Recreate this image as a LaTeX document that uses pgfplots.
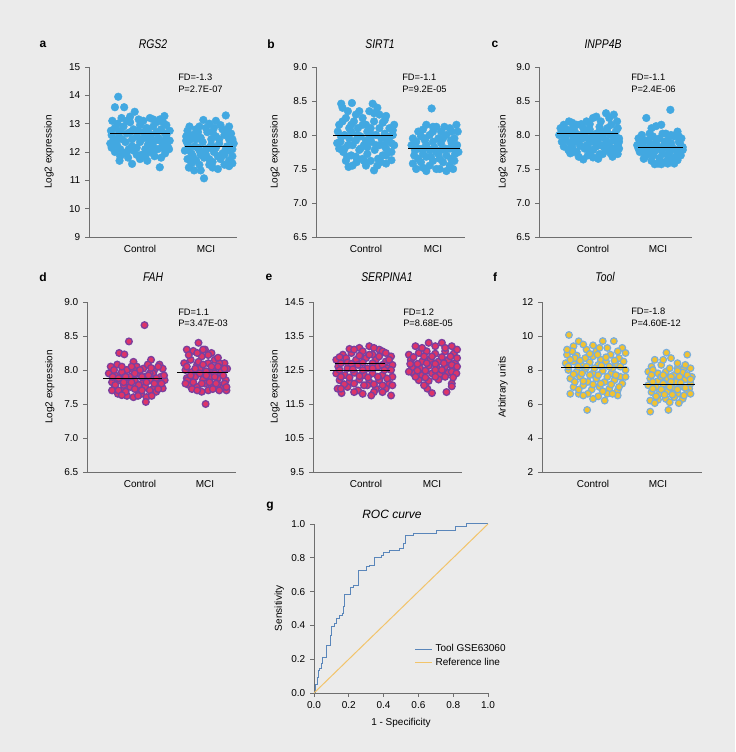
\documentclass[border=0pt]{standalone}
\usepackage{pgfplots}
\pgfplotsset{compat=1.18}
\usepackage{fontspec}
\setmainfont{Liberation Sans}
\newfontfamily\titlefont[FakeStretch=0.82]{Liberation Sans}
\definecolor{bg}{HTML}{EBEBEB}
\definecolor{axgray}{HTML}{6E6E6E}
\definecolor{dotblue}{HTML}{42A8E1}
\definecolor{dotpink}{HTML}{DE3468}
\definecolor{dotpurple}{HTML}{7B3F9E}
\definecolor{dotyellow}{HTML}{F2C230}
\definecolor{dotedge}{HTML}{7AAEDB}
\definecolor{rocblue}{HTML}{5A86BA}
\definecolor{refyellow}{HTML}{F2C46A}
\newcommand\tf{\fontsize{7.5}{9}\selectfont}
\newcommand\fdf{\fontsize{7}{8.5}\selectfont}
\newcommand\ttl{\titlefont\fontsize{9.5}{11}\selectfont\itshape}
\newcommand\lett{\fontsize{9}{11}\selectfont\bfseries}
\pgfplotsset{
 panel/.style={scale only axis, anchor=south west, axis x line*=bottom, axis y line*=left,
   axis line style={draw=axgray, line width=0.6pt}, tick style={draw=axgray, line width=0.6pt},
   tick align=outside, major tick length=3pt, tick label style={font=\tf}, label style={font=\tf},
   /pgf/number format/assume math mode=true, clip=false, clip marker paths=true},
 scat/.style={panel, xtick={1,2}, xticklabels={Control,MCI}, major x tick style=transparent,
   ylabel={Log2 expression}, height=127.5pt},
 onedec/.style={yticklabel style={/pgf/number format/.cd, fixed, fixed zerofill, precision=1}},
 bluedot/.style={only marks, mark=*, mark size=2.9pt, mark options={fill=dotblue, draw=dotblue, line width=0.3pt}},
 pinkdot/.style={only marks, mark=*, mark size=2.5pt, mark options={fill=dotpink, draw=dotpurple, line width=1pt}},
 tooldot/.style={only marks, mark=*, mark size=2.5pt, mark options={fill=dotyellow, draw=dotedge, line width=0.9pt}},
 meanline/.style={black, line width=0.6pt, no marks},
}
\begin{document}
\begin{tikzpicture}
\fill[bg] (0,0) rectangle (551.25pt,564pt);
\useasboundingbox (0,0) rectangle (551.25pt,564pt);

% ---------- a RGS2
\begin{axis}[scat, at={(66.75pt,386.25pt)}, width=111pt, xmin=0.227, xmax=2.47,
  ymin=9, ymax=15, ytick={9,10,11,12,13,14,15},
  ylabel style={at={(axis description cs:-0.27,0.5)}, anchor=center}]
\addplot[bluedot] coordinates {
(0.67,13.95)(0.62,13.58)(0.76,13.58)(0.92,13.42)(1.37,13.27)
(0.58,13.1)(0.72,13.2)(0.85,13.05)(1.05,13.1)(1.15,13.2)(1.25,13.05)(1.40,12.95)
(0.62,12.85)(0.75,12.9)(0.9,12.8)(1.0,12.95)(1.1,12.85)(1.2,12.9)(1.32,12.8)(1.45,12.75)
(0.57,12.6)(0.68,12.5)(0.8,12.65)(0.95,12.55)(1.05,12.7)(1.17,12.6)(1.28,12.5)(1.4,12.6)
(0.55,12.3)(0.65,12.25)(0.78,12.35)(0.88,12.2)(1.0,12.35)(1.12,12.25)(1.22,12.4)(1.35,12.3)(1.45,12.4)
(0.62,12.0)(0.75,11.95)(0.9,12.05)(1.02,11.9)(1.15,12.0)(1.27,12.1)(1.38,11.95)
(0.69,11.69)(0.82,11.8)(0.88,11.58)(1.0,11.75)(1.11,11.69)(1.22,11.85)(1.30,11.46)
(0.6,12.45)(0.85,13.25)(1.3,13.15)(1.42,12.2)(0.7,12.75)(1.08,12.5)
(0.66,13.0)(0.8,13.1)(0.98,13.15)(1.2,13.15)(1.35,13.05)
(0.56,12.75)(0.68,12.65)(0.85,12.7)(0.97,12.75)(1.12,12.75)(1.25,12.7)(1.38,12.65)
(0.62,12.4)(0.73,12.45)(0.88,12.45)(1.02,12.45)(1.15,12.4)(1.3,12.4)(1.4,12.5)
(0.57,12.15)(0.7,12.1)(0.83,12.1)(0.95,12.15)(1.08,12.1)(1.2,12.2)(1.33,12.15)(1.44,12.1)
(0.7,11.85)(0.95,11.9)(1.08,11.85)(1.32,11.8)(0.8,12.0)(1.2,12.0)
};
\addplot[bluedot] coordinates {
(2.30,13.29)(1.96,13.13)(2.05,13.0)(1.75,12.9)(1.85,12.8)(2.12,12.85)(2.22,12.95)(2.38,12.65)
(1.70,12.55)(1.80,12.6)(1.92,12.5)(2.02,12.7)(2.15,12.55)(2.28,12.6)(2.40,12.45)
(1.72,12.3)(1.83,12.2)(1.95,12.35)(2.08,12.25)(2.20,12.3)(2.32,12.2)(2.42,12.3)
(1.68,12.05)(1.78,11.95)(1.90,12.05)(2.0,11.9)(2.12,12.0)(2.25,11.95)(2.36,12.05)
(1.72,11.75)(1.85,11.7)(1.97,11.8)(2.10,11.65)(2.22,11.75)(2.35,11.7)
(1.74,11.45)(1.82,11.35)(1.97,11.07)(2.1,11.45)(2.18,11.4)(2.35,11.5)(1.9,11.55)(2.28,11.9)
(1.88,12.7)(2.25,12.8)(2.0,12.1)(1.78,12.45)
(2.15,13.1)(2.35,12.9)(1.9,12.9)(2.0,12.85)(1.72,12.75)(2.1,12.7)(2.3,12.75)
(1.85,12.45)(2.08,12.45)(2.2,12.45)(2.35,12.45)(1.7,12.4)
(1.75,12.15)(1.88,12.15)(2.05,12.15)(2.15,12.15)(2.3,12.1)(2.4,12.1)
(1.8,11.85)(1.92,11.9)(2.05,11.75)(2.18,11.85)(2.4,11.85)
(1.78,11.6)(1.92,11.35)(2.05,11.55)(2.28,11.55)(2.4,11.6)
};
\addplot[meanline] coordinates {(0.55,12.65)(1.45,12.65)};
\addplot[meanline] coordinates {(1.68,12.2)(2.41,12.2)};
\end{axis}

% ---------- b SIRT1
\begin{axis}[scat, onedec, at={(237pt,386.25pt)}, width=111.75pt, xmin=0.254, xmax=2.478,
  ymin=6.5, ymax=9, ytick={6.5,7.0,7.5,8.0,8.5,9.0},
  ylabel style={at={(axis description cs:-0.275,0.5)}, anchor=center}]
\addplot[bluedot] coordinates {
(0.63,8.46)(0.79,8.47)(1.10,8.46)(1.05,8.35)(1.20,8.30)(0.95,8.25)
(0.60,8.15)(0.70,8.25)(0.82,8.2)(0.88,8.1)(1.0,8.15)(1.12,8.2)(1.25,8.18)(1.35,8.1)
(0.58,8.05)(0.68,8.0)(0.78,8.05)(0.92,7.98)(1.02,8.05)(1.15,8.0)(1.28,8.02)(1.40,8.0)
(0.62,7.9)(0.73,7.85)(0.85,7.92)(0.97,7.85)(1.08,7.9)(1.2,7.85)(1.32,7.92)(1.42,7.85)
(0.66,7.75)(0.78,7.7)(0.9,7.78)(1.02,7.72)(1.13,7.78)(1.25,7.7)(1.38,7.75)
(0.7,7.62)(0.74,7.53)(0.86,7.6)(1.0,7.55)(1.12,7.48)(1.07,7.62)(1.22,7.6)(1.38,7.63)
(0.65,8.4)(0.9,8.35)(1.3,8.28)(1.17,8.4)(0.75,8.1)(1.05,7.95)(1.3,7.8)(0.6,7.8)(0.95,7.65)(1.42,8.15)
(0.73,8.35)(0.85,8.3)(1.12,8.32)(1.28,8.22)(0.65,8.2)(0.78,8.15)(0.95,8.15)(1.07,8.1)(1.2,8.1)(1.4,8.07)
(0.63,7.97)(0.75,7.95)(0.87,8.0)(1.0,7.92)(1.1,8.0)(1.23,7.95)(1.35,7.97)
(0.57,7.88)(0.68,7.8)(0.8,7.85)(0.92,7.8)(1.02,7.82)(1.15,7.85)(1.27,7.85)(1.38,7.88)
(0.72,7.68)(0.85,7.68)(0.97,7.62)(1.18,7.65)(1.3,7.7)(0.8,7.55)(1.17,7.55)(1.3,7.58)
};
\addplot[bluedot] coordinates {
(1.98,8.39)(1.9,8.15)(2.05,8.12)(2.17,8.12)(2.35,8.15)(1.78,8.05)(2.28,8.05)
(1.7,7.95)(1.82,7.98)(1.95,8.0)(2.08,7.95)(2.2,8.0)(2.32,7.95)
(1.68,7.85)(1.78,7.8)(1.9,7.85)(2.02,7.82)(2.12,7.88)(2.25,7.8)(2.36,7.85)
(1.72,7.7)(1.85,7.72)(1.97,7.68)(2.08,7.72)(2.2,7.7)(2.33,7.72)
(1.7,7.58)(1.82,7.6)(1.95,7.55)(2.05,7.5)(2.15,7.6)(2.25,7.55)(2.32,7.62)
(1.9,7.47)(2.2,7.47)(1.75,7.5)(2.0,7.62)(2.12,7.78)(1.88,7.92)(2.27,7.92)(2.0,8.05)
(1.85,8.08)(2.0,8.12)(2.12,8.05)(2.25,8.1)(2.37,8.05)
(1.75,7.9)(1.88,7.95)(2.0,7.9)(2.15,7.95)(2.28,7.88)
(1.73,7.78)(1.85,7.8)(1.95,7.78)(2.05,7.75)(2.18,7.8)(2.3,7.8)(2.38,7.75)
(1.78,7.65)(1.9,7.68)(2.1,7.65)(2.27,7.65)(1.85,7.52)(2.1,7.5)(2.3,7.5)
};
\addplot[meanline] coordinates {(0.51,8.0)(1.4,8.0)};
\addplot[meanline] coordinates {(1.63,7.8)(2.4,7.8)};
\end{axis}

% ---------- c INPP4B
\begin{axis}[scat, onedec, at={(404.25pt,386.25pt)}, width=114.75pt, xmin=0.169, xmax=2.523,
  ymin=6.5, ymax=9, ytick={6.5,7.0,7.5,8.0,8.5,9.0},
  ylabel style={at={(axis description cs:-0.235,0.5)}, anchor=center}]
\addplot[bluedot] coordinates {
(0.63,8.2)(0.75,8.15)(0.9,8.2)(1.0,8.25)(1.05,8.27)(1.2,8.32)(1.32,8.3)(1.37,8.2)(1.28,8.15)
(0.5,8.1)(0.6,8.08)(0.72,8.05)(0.85,8.1)(0.95,8.08)(1.1,8.12)(1.22,8.1)(1.35,8.05)
(0.48,8.0)(0.58,7.98)(0.7,7.95)(0.82,8.0)(0.93,7.95)(1.05,8.02)(1.15,7.97)(1.27,8.0)(1.4,7.95)
(0.52,7.9)(0.65,7.88)(0.78,7.9)(0.9,7.85)(1.02,7.9)(1.12,7.85)(1.25,7.88)(1.38,7.85)
(0.62,7.78)(0.75,7.75)(0.87,7.8)(1.0,7.78)(1.1,7.72)(1.22,7.78)(1.35,7.75)
(0.65,7.73)(0.78,7.68)(0.85,7.64)(1.08,7.65)(1.3,7.68)(0.95,7.72)(1.17,8.05)(0.7,8.12)
(0.55,8.15)(0.68,8.18)(0.82,8.16)(0.95,8.16)(1.12,8.2)(1.25,8.25)(1.38,8.1)
(0.53,8.04)(0.65,8.02)(0.77,8.0)(0.88,8.04)(1.0,8.0)(1.1,8.05)(1.22,8.04)(1.32,8.0)
(0.58,7.93)(0.72,7.9)(0.84,7.95)(0.97,7.9)(1.08,7.94)(1.2,7.92)(1.32,7.92)(1.4,7.9)
(0.55,7.83)(0.68,7.82)(0.8,7.84)(0.93,7.8)(1.05,7.83)(1.17,7.82)(1.3,7.8)(1.4,7.8)
(0.7,7.75)(0.92,7.7)(1.15,7.72)(1.27,7.73)(1.38,7.72)(1.0,7.67)
};
\addplot[bluedot] coordinates {
(2.19,8.37)(1.82,8.25)(1.97,8.13)(2.05,8.15)(1.9,8.1)(2.3,8.05)(2.12,8.02)
(1.7,7.95)(1.8,7.92)(1.92,7.98)(2.02,7.95)(2.15,7.92)(2.25,7.98)(2.36,7.95)
(1.68,7.85)(1.78,7.82)(1.88,7.87)(2.0,7.83)(2.1,7.86)(2.22,7.82)(2.34,7.87)
(1.72,7.75)(1.85,7.72)(1.95,7.76)(2.07,7.72)(2.18,7.75)(2.3,7.72)(2.38,7.78)
(1.78,7.65)(1.9,7.62)(2.0,7.58)(2.1,7.6)(2.2,7.65)(2.3,7.63)(1.95,7.57)(2.25,7.58)(1.85,7.8)(2.15,7.7)
(1.75,8.0)(1.87,8.02)(2.07,8.02)(2.2,8.0)(2.32,7.98)
(1.72,7.9)(1.85,7.92)(1.97,7.9)(2.1,7.9)(2.2,7.88)(2.32,7.9)
(1.7,7.8)(1.82,7.76)(1.92,7.82)(2.05,7.78)(2.15,7.8)(2.28,7.78)(2.38,7.82)
(1.8,7.68)(1.92,7.7)(2.02,7.66)(2.15,7.62)(2.27,7.68)(2.35,7.7)(2.05,7.57)(2.15,7.58)
};
\addplot[meanline] coordinates {(0.45,8.02)(1.38,8.02)};
\addplot[meanline] coordinates {(1.69,7.82)(2.38,7.82)};
\end{axis}

% ---------- d FAH
\begin{axis}[scat, onedec, at={(65.25pt,210pt)}, width=111.75pt, xmin=0.185, xmax=2.477,
  ymin=6.5, ymax=9, ytick={6.5,7.0,7.5,8.0,8.5,9.0},
  ylabel style={at={(axis description cs:-0.25,0.5)}, anchor=center}]
\addplot[pinkdot] coordinates {
(1.07,8.66)(0.83,8.42)(0.68,8.25)(0.76,8.23)(0.9,8.12)(1.17,8.15)(1.3,8.08)
(0.55,8.05)(0.65,8.08)(0.8,8.0)(0.95,8.05)(1.05,8.02)(1.12,8.08)(1.22,8.0)(1.35,8.02)
(0.52,7.95)(0.62,7.92)(0.72,7.97)(0.85,7.9)(0.98,7.95)(1.08,7.9)(1.2,7.95)(1.32,7.9)
(0.57,7.82)(0.68,7.85)(0.8,7.8)(0.92,7.85)(1.03,7.8)(1.15,7.85)(1.27,7.8)(1.38,7.85)
(0.6,7.72)(0.72,7.7)(0.85,7.75)(0.97,7.7)(1.08,7.75)(1.2,7.72)(1.35,7.73)
(0.66,7.65)(0.8,7.62)(0.9,7.6)(1.02,7.65)(1.1,7.6)(1.25,7.68)(1.09,7.53)(0.75,7.78)(1.15,7.95)(0.9,8.0)
(0.6,8.0)(0.72,8.05)(0.87,8.05)(1.0,8.0)(1.17,8.03)(1.28,8.05)
(0.58,7.9)(0.67,7.88)(0.78,7.9)(0.92,7.95)(1.03,7.9)(1.13,7.92)(1.25,7.88)(1.37,7.92)
(0.62,7.78)(0.75,7.82)(0.87,7.82)(0.98,7.78)(1.1,7.82)(1.22,7.8)(1.33,7.8)
(0.57,7.7)(0.67,7.7)(0.78,7.68)(0.92,7.72)(1.03,7.7)(1.15,7.7)(1.28,7.72)
(0.72,7.63)(0.97,7.62)(1.18,7.62)
};
\addplot[pinkdot] coordinates {
(1.9,8.40)(1.72,8.3)(1.82,8.28)(2.0,8.3)(2.1,8.25)(1.95,8.2)(2.15,8.15)(2.3,8.1)(2.22,8.1)
(1.68,8.1)(1.78,8.15)(1.88,8.08)(2.05,8.1)
(1.7,8.0)(1.8,7.97)(1.92,8.02)(2.02,7.98)(2.12,8.0)(2.25,7.98)(2.34,8.02)
(1.72,7.88)(1.85,7.9)(1.97,7.86)(2.08,7.9)(2.2,7.88)(2.32,7.85)
(1.75,7.78)(1.88,7.75)(2.0,7.8)(2.1,7.76)(2.22,7.78)(2.33,7.7)
(1.8,7.72)(1.95,7.68)(2.05,7.7)(2.28,7.75)(2.01,7.50)(1.9,8.12)(2.15,7.95)(1.73,7.85)
(1.75,8.22)(1.88,8.25)(2.05,8.22)(2.2,8.18)(1.97,8.3)
(1.72,8.05)(1.85,8.02)(1.97,8.08)(2.1,8.05)(2.2,8.05)(2.3,8.02)
(1.78,7.92)(1.92,7.95)(2.02,7.92)(2.15,7.9)(2.28,7.92)
(1.7,7.8)(1.82,7.82)(1.95,7.8)(2.07,7.82)(2.17,7.8)(2.3,7.8)
(1.88,7.7)(2.12,7.72)(2.22,7.7)(2.33,7.75)
};
\addplot[meanline] coordinates {(0.43,7.87)(1.34,7.87)};
\addplot[meanline] coordinates {(1.57,7.97)(2.35,7.97)};
\end{axis}

% ---------- e SERPINA1
\begin{axis}[scat, onedec, at={(234.75pt,210pt)}, width=111.75pt, xmin=0.197, xmax=2.455,
  ymin=9.5, ymax=14.5, ytick={9.5,10.5,11.5,12.5,13.5,14.5},
  ylabel style={at={(axis description cs:-0.255,0.5)}, anchor=center}]
\addplot[pinkdot] coordinates {
(0.9,13.15)(1.05,13.2)(1.2,13.1)
(0.65,12.95)(0.78,13.0)(0.95,13.05)(1.1,12.95)(1.25,13.05)(1.38,12.9)
(0.55,12.8)(0.7,12.85)(0.85,12.8)(1.0,12.85)(1.15,12.8)(1.3,12.75)(1.4,12.65)
(0.58,12.6)(0.72,12.55)(0.88,12.65)(1.02,12.55)(1.18,12.6)(1.32,12.55)
(0.55,12.4)(0.68,12.35)(0.82,12.42)(0.97,12.35)(1.1,12.4)(1.25,12.35)(1.4,12.3)
(0.6,12.2)(0.75,12.15)(0.9,12.22)(1.05,12.15)(1.2,12.2)(1.35,12.1)
(0.57,11.95)(0.72,12.0)(0.88,11.9)(1.02,12.05)(1.15,11.95)(1.3,11.95)
(0.63,11.82)(0.82,11.85)(0.95,11.8)(1.25,11.85)(1.38,11.75)
(0.75,13.12)(0.82,13.1)(1.12,13.15)(1.3,13.0)
(0.6,12.88)(0.72,12.72)(0.9,12.92)(1.05,12.95)(1.2,12.9)(1.35,12.8)
(0.62,12.7)(0.78,12.68)(0.95,12.72)(1.1,12.7)(1.25,12.65)(1.38,12.5)
(0.6,12.5)(0.8,12.52)(0.95,12.5)(1.1,12.55)(1.28,12.5)
(0.62,12.3)(0.75,12.28)(0.9,12.32)(1.03,12.28)(1.18,12.3)(1.32,12.25)
(0.67,12.08)(0.82,12.1)(0.97,12.05)(1.12,12.08)(1.25,12.05)(1.4,12.05)
(0.62,11.95)(1.12,11.85)(1.08,11.75)
};
\addplot[pinkdot] coordinates {
(1.75,13.2)(1.95,13.3)(2.15,13.3)(2.3,13.2)(2.05,13.2)
(1.65,12.95)(1.8,13.0)(1.92,13.05)(2.05,12.98)(2.2,13.05)(2.33,12.98)
(1.68,12.8)(1.85,12.75)(1.98,12.82)(2.1,12.75)(2.25,12.8)(2.35,12.7)
(1.7,12.58)(1.82,12.55)(1.95,12.62)(2.08,12.55)(2.2,12.6)(2.32,12.55)
(1.72,12.4)(1.85,12.35)(2.0,12.4)(2.12,12.38)(2.25,12.42)
(1.8,12.2)(1.95,12.18)(2.1,12.22)(2.3,12.1)
(1.93,11.95)(2.22,11.85)(2.3,12.02)
(1.85,13.15)(2.2,13.15)(2.38,13.1)
(1.72,12.88)(1.88,12.9)(2.0,12.9)(2.15,12.88)(2.28,12.9)(2.38,12.85)
(1.67,12.68)(1.78,12.68)(1.92,12.7)(2.05,12.68)(2.18,12.7)(2.3,12.65)(2.38,12.6)
(1.65,12.45)(1.78,12.48)(1.9,12.48)(2.05,12.5)(2.15,12.5)(2.3,12.45)(2.37,12.4)
(1.75,12.3)(1.9,12.28)(2.05,12.3)(2.2,12.3)(2.32,12.28)(1.88,12.05)(2.0,11.82)
};
\addplot[meanline] coordinates {(0.53,12.68)(1.29,12.68)};
\addplot[meanline] coordinates {(0.45,12.48)(1.36,12.48)};
\end{axis}

% ---------- f Tool
\begin{axis}[scat, at={(406.5pt,210pt)}, width=120pt, xmin=0.215, xmax=2.677,
  ymin=2, ymax=12, ytick={2,4,6,8,10,12}, ylabel={Arbitrary units},
  ylabel style={at={(axis description cs:-0.244,0.5)}, anchor=center}]
\addplot[tooldot] coordinates {
(0.63,10.06)(0.78,9.69)(1.15,9.7)(1.32,9.7)(1.45,9.3)(1.5,9.0)(0.7,9.4)(0.9,9.2)(1.05,9.1)(1.22,9.3)
(0.6,8.9)(0.75,8.85)(0.88,8.7)(1.0,8.8)(1.12,8.6)(1.27,8.9)(1.4,8.7)
(0.58,8.4)(0.7,8.5)(0.82,8.3)(0.95,8.45)(1.08,8.3)(1.2,8.5)(1.35,8.3)(1.5,8.0)
(0.62,8.0)(0.75,7.9)(0.88,8.05)(1.0,7.8)(1.15,7.95)(1.28,7.8)(1.42,7.6)
(0.65,7.5)(0.8,7.6)(0.92,7.3)(1.05,7.5)(1.18,7.3)(1.33,7.4)(1.45,7.2)
(0.7,7.0)(0.85,7.1)(0.98,6.85)(1.1,7.0)(1.25,6.9)(1.38,6.8)
(0.65,6.6)(0.78,6.6)(1.08,6.45)(1.22,6.6)(1.38,6.5)(1.18,6.2)(0.91,5.65)(1.0,6.3)(0.72,8.7)(1.3,8.1)
(0.68,9.1)(0.85,9.5)(1.0,9.45)(1.1,9.3)(1.38,9.1)(0.6,9.2)
(0.65,8.6)(0.8,8.55)(0.95,8.95)(1.07,8.9)(1.2,8.75)(1.33,8.55)(1.47,8.5)
(0.62,8.2)(0.77,8.2)(0.9,8.2)(1.02,8.1)(1.13,8.25)(1.25,8.2)(1.42,8.2)
(0.7,7.75)(0.83,7.8)(0.95,7.7)(1.08,7.7)(1.22,7.6)(1.35,7.7)(1.5,7.6)
(0.72,7.3)(0.85,7.35)(1.0,7.15)(1.12,7.2)(1.28,7.15)(1.4,7.0)
(0.78,6.85)(0.92,6.6)(1.15,6.75)(1.3,6.6)(0.85,6.5)
};
\addplot[tooldot] coordinates {
(2.13,9.02)(2.45,8.9)(1.95,8.6)(2.2,8.7)(1.9,8.2)(2.05,8.3)(2.3,8.1)(2.4,8.1)(2.5,8.1)
(1.85,7.9)(2.0,7.8)(2.12,7.9)(2.25,7.7)(2.38,7.85)(2.52,7.6)
(1.88,7.5)(2.0,7.35)(2.15,7.5)(2.28,7.3)(2.42,7.45)(2.5,7.2)
(1.85,7.1)(1.97,7.0)(2.1,7.15)(2.22,6.95)(2.35,7.05)(2.48,6.9)
(1.9,6.7)(2.02,6.6)(2.15,6.75)(2.3,6.6)(2.45,6.7)
(1.88,6.2)(2.0,6.25)(2.12,6.3)(2.25,6.4)(2.38,6.3)(2.32,6.05)
(1.88,5.55)(2.16,5.65)(2.05,7.6)(2.3,7.95)
(2.08,8.6)(2.3,8.4)(1.92,8.0)(2.18,8.1)(2.42,8.3)
(1.9,7.7)(2.08,7.7)(2.2,7.6)(2.33,7.6)(2.45,7.7)
(1.92,7.3)(2.08,7.2)(2.2,7.3)(2.35,7.25)(2.5,7.45)
(1.92,6.9)(2.05,6.85)(2.18,7.0)(2.3,6.85)(2.42,6.95)
(1.97,6.45)(2.1,6.55)(2.22,6.55)(2.4,6.5)(2.5,6.6)(1.95,6.05)(2.18,6.1)
};
\addplot[meanline] coordinates {(0.51,8.15)(1.52,8.15)};
\addplot[meanline] coordinates {(1.77,7.15)(2.57,7.15)};
\end{axis}

% ---------- g ROC
\begin{axis}[panel, at={(235.5pt,44.25pt)}, width=130.5pt, height=126.75pt,
  xmin=0, xmax=1, ymin=0, ymax=1,
  xtick={0,0.2,0.4,0.6,0.8,1.0}, ytick={0,0.2,0.4,0.6,0.8,1.0},
  xticklabel style={/pgf/number format/.cd, fixed, fixed zerofill, precision=1},
  yticklabel style={/pgf/number format/.cd, fixed, fixed zerofill, precision=1},
  xlabel={1 - Specificity}, ylabel={Sensitivity},
  ylabel style={at={(axis description cs:-0.2,0.5)}, anchor=center},
  legend style={draw=none, fill=none, font=\tf, at={(0.555,0.22)}, anchor=west,
    cells={anchor=west}, row sep=-1pt},
  legend image code/.code={\draw[#1] (0cm,0cm) -- (0.45cm,0cm);}]
\addplot[rocblue, line width=0.75pt, const plot, no marks] coordinates {
(0,0)(0.006,0.045)(0.011,0.05)(0.02,0.09)(0.025,0.134)(0.034,0.144)(0.044,0.174)
(0.05,0.213)(0.073,0.283)(0.092,0.342)(0.098,0.395)(0.115,0.41)(0.13,0.44)(0.145,0.46)
(0.164,0.47)(0.168,0.51)(0.178,0.583)(0.212,0.625)(0.226,0.638)(0.254,0.727)(0.302,0.747)
(0.321,0.757)(0.346,0.802)(0.388,0.816)(0.402,0.83)(0.436,0.842)(0.493,0.856)(0.512,0.885)
(0.526,0.929)(0.570,0.945)(0.704,0.964)(0.814,0.984)(0.877,1.0)(1.0,1.0)
};
\addlegendentry{Tool GSE63060}
\addplot[refyellow, line width=0.75pt, no marks] coordinates {(0,0)(1,1)};
\addlegendentry{Reference line}
\end{axis}

% ---------- titles and annotations
\node[font=\lett] at (32.25pt,531pt) {a};
\node[font=\ttl] at (114.75pt,531pt) {RGS2};
\node[font=\lett] at (203.25pt,531pt) {b};
\node[font=\ttl] at (285pt,531pt) {SIRT1};
\node[font=\lett] at (371.25pt,531pt) {c};
\node[font=\ttl] at (452.25pt,531pt) {INPP4B};
\node[font=\lett] at (32.25pt,356.25pt) {d};
\node[font=\ttl] at (114.75pt,356.25pt) {FAH};
\node[font=\lett] at (201.75pt,356.25pt) {e};
\node[font=\ttl] at (290.25pt,356.25pt) {SERPINA1};
\node[font=\lett] at (371.25pt,356.25pt) {f};
\node[font=\ttl] at (453.75pt,356.25pt) {Tool};
\node[font=\lett] at (202.5pt,183.75pt) {g};
\node[font=\fontsize{9}{11}\selectfont\itshape] at (294pt,178.5pt) {ROC curve};

\node[font=\fdf, anchor=west, inner sep=0pt] at (133.5pt,506.25pt) {FD=-1.3};
\node[font=\fdf, anchor=west, inner sep=0pt] at (133.5pt,497.25pt) {P=2.7E-07};
\node[font=\fdf, anchor=west, inner sep=0pt] at (301.5pt,506.25pt) {FD=-1.1};
\node[font=\fdf, anchor=west, inner sep=0pt] at (301.5pt,497.25pt) {P=9.2E-05};
\node[font=\fdf, anchor=west, inner sep=0pt] at (473.25pt,506.25pt) {FD=-1.1};
\node[font=\fdf, anchor=west, inner sep=0pt] at (473.25pt,497.25pt) {P=2.4E-06};
\node[font=\fdf, anchor=west, inner sep=0pt] at (133.5pt,330pt) {FD=1.1};
\node[font=\fdf, anchor=west, inner sep=0pt] at (133.5pt,321.75pt) {P=3.47E-03};
\node[font=\fdf, anchor=west, inner sep=0pt] at (302.25pt,330pt) {FD=1.2};
\node[font=\fdf, anchor=west, inner sep=0pt] at (302.25pt,321.75pt) {P=8.68E-05};
\node[font=\fdf, anchor=west, inner sep=0pt] at (473.25pt,330.75pt) {FD=-1.8};
\node[font=\fdf, anchor=west, inner sep=0pt] at (473.25pt,321.75pt) {P=4.60E-12};
\end{tikzpicture}
\end{document}
